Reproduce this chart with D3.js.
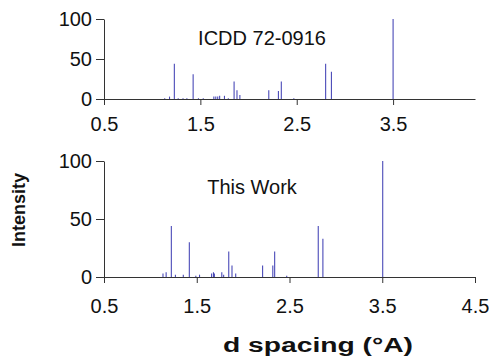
<!DOCTYPE html>
<html>
<head>
<meta charset="utf-8">
<script src="https://cdn.jsdelivr.net/npm/d3@7"></script>
<style>
  body { margin: 0; background: #fff; }
  text { font-family: Arial, "Liberation Sans", sans-serif; fill: #111; }
  .axis path, .axis line { stroke: #333; }
</style>
</head>
<body>
<div id="chart"></div>
<script>
// ICDD 72-0916 reference pattern
var dIcdd = [1.13, 1.18, 1.23, 1.27, 1.32, 1.36, 1.425, 1.48, 1.53, 1.64, 1.66, 1.68, 1.70, 1.75, 1.79,
             1.85, 1.88, 1.91, 2.21, 2.31, 2.34, 2.47, 2.80, 2.86, 3.50];
var iIcdd = [1, 3, 44, 1, 1, 1, 31, 1, 1, 3, 3, 3, 4, 4, 1,
             22, 11, 5, 11, 10, 22, 1, 44, 34, 100];

// measured pattern ("This Work")
var dWork = [1.136, 1.17, 1.226, 1.27, 1.355, 1.42, 1.49, 1.53, 1.66, 1.68, 1.69, 1.77, 1.79,
             1.845, 1.88, 1.92, 2.21, 2.32, 2.34, 2.47, 2.81, 2.86, 3.505];
var iWork = [3, 4, 44, 2, 2, 30, 1, 2, 3, 4, 3, 4, 2,
             22, 10, 3, 10, 10, 22, 1, 44, 33, 100];

var yTicks = [0, 50, 100];
var xTicksTop = [0.5, 1.5, 2.5, 3.5];
var xTicksBottom = [0.5, 1.5, 2.5, 3.5, 4.5];

var w = 489, h = 357;
var svg = d3.select("#chart").append("svg")
    .attr("width", w)
    .attr("height", h);

function panel(d, inten, cfg) {
    var x = d3.scaleLinear().domain(cfg.xDomain).range([104, 475]);
    var y = d3.scaleLinear().domain([0, 100]).range([cfg.y0, cfg.y100]);

    svg.append("g").selectAll("line")
        .data(d3.zip(d, inten))
        .enter()
        .append("line")
        .attr("x1", p => x(p[0]))
        .attr("x2", p => x(p[0]))
        .attr("y1", y(0))
        .attr("y2", p => y(p[1]))
        .attr("stroke", "#4a4ab8")
        .attr("stroke-width", 1.1);

    var ya = svg.append("g")
        .attr("class", "axis")
        .attr("transform", `translate(${x(cfg.xDomain[0])},0)`)
        .call(d3.axisLeft(y).tickValues(yTicks).tickSize(8).tickPadding(4).tickSizeOuter(0));
    var xa = svg.append("g")
        .attr("class", "axis")
        .attr("transform", `translate(0,${y(0)})`)
        .call(d3.axisBottom(x).tickValues(cfg.xTicks).tickSize(6).tickPadding(cfg.pad)
              .tickFormat(d3.format(".1f")).tickSizeOuter(cfg.outer));
    [ya, xa].forEach(a => {
        a.select(".domain").attr("stroke", "#333");
        a.selectAll("text").style("font-size", "20px").attr("fill", "#111");
    });

    svg.append("text")
        .attr("x", cfg.lx)
        .attr("y", cfg.ly)
        .attr("text-anchor", "middle")
        .style("font-size", "20px")
        .text(cfg.label);
}

panel(dIcdd, iIcdd, { xDomain: [0.5, 4.35], xTicks: xTicksTop, y0: 99, y100: 19, pad: 12, outer: 0,
                      label: "ICDD 72-0916", lx: 262, ly: 45 });
panel(dWork, iWork, { xDomain: [0.5, 4.5], xTicks: xTicksBottom, y0: 277, y100: 161, pad: 16, outer: 6,
                      label: "This Work", lx: 252, ly: 194 });

svg.append("text")
    .attr("transform", "translate(25,210) rotate(-90)")
    .attr("text-anchor", "middle")
    .style("font-size", "18px")
    .style("font-weight", "bold")
    .text("Intensity");

var xt = svg.append("text")
    .attr("x", 318)
    .attr("y", 352)
    .attr("text-anchor", "middle")
    .attr("textLength", 190)
    .attr("lengthAdjust", "spacingAndGlyphs")
    .style("font-size", "20px")
    .style("font-weight", "bold");
xt.append("tspan").text("d spacing (");
xt.append("tspan").text("°");
xt.append("tspan").text("A)");
</script>
</body>
</html>
